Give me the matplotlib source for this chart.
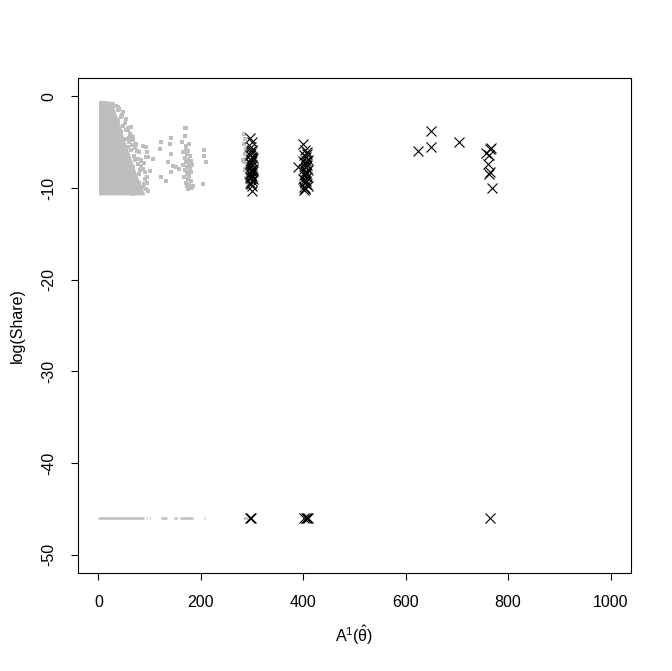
import numpy as np
import matplotlib
matplotlib.use("Agg")
import matplotlib.pyplot as plt

plt.rcParams['font.family'] = ['Liberation Sans', 'DejaVu Sans']
plt.rcParams['mathtext.fontset'] = 'custom'
plt.rcParams['mathtext.rm'] = 'Liberation Sans'
plt.rcParams['mathtext.it'] = 'Liberation Sans'

# ---- data ----
ZERO_LOG = np.log(1e-20)  # zero shares

# dense grey core: envelope of the point cloud
core_x = [0, 10, 20, 25, 30, 35, 40, 45, 50, 55, 60, 65, 70, 75, 80, 85, 90]
core_top = [-0.45, -0.45, -0.5, -0.6, -1.2, -2.0, -2.8, -3.6, -4.6, -5.4, -6.2,
            -7.0, -7.8, -8.6, -9.3, -10.0, -10.6]
core_bot = [-10.75] * 17

# scattered grey points
grey_x = [28, 34.5, 41, 31, 44, 38, 47.5, 54, 44, 60.5, 51, 67, 57, 80, 70, 64, 93, 77,
          67, 86.5, 80, 70, 90, 80, 86.5, 77, 96, 67, 106, 38, 47.5, 54, 64, 73.6, 83,
          73.6, 21.5, 37.7, 57, 64, 86.5, 83, 90, 100, 93,
          45, 52, 58, 62, 68, 72, 75, 78, 84, 88, 91, 94, 60, 66, 71, 81, 89, 95,
          93, 94, 96, 122, 120, 142, 139, 142, 135, 145, 152, 142, 158, 122, 132,
          168, 171, 168, 163, 207, 207, 210, 204, 184, 181,
          170, 175, 172, 178, 168, 174, 180, 171, 176, 166, 173, 179, 169, 175, 181,
          172, 177, 167, 174, 180, 170, 176, 172, 178, 174, 183, 165, 182, 171, 176,
          285, 287, 284, 288, 286, 289, 285, 290, 287, 291, 288, 290, 292, 286, 289, 283]
grey_y = [-0.8, -1.0, -1.35, -1.9, -2.3, -2.6, -3.2, -3.7, -3.9, -4.5, -4.7, -4.8, -5.5,
          -6.1, -6.5, -5.9, -6.6, -7.4, -7.7, -7.9, -8.5, -8.7, -9.0, -9.4, -9.9, -10.3,
          -10.3, -10.7, -6.8, -1.5, -1.7, -2.5, -3.35, -5.2, -7.0, -9.6, -0.8, -1.2,
          -3.7, -4.3, -5.4, -7.6, -8.3, -8.1, -10.1,
          -2.0, -2.9, -3.5, -4.1, -4.4, -5.6, -6.0, -6.8, -6.9, -7.3, -8.2, -9.4,
          -5.0, -5.3, -6.9, -8.0, -9.6, -8.8,
          -5.5, -6.1, -6.6, -5.0, -5.7, -4.5, -5.2, -6.3, -7.2, -7.6, -7.7, -8.3,
          -7.9, -8.8, -9.2,
          -3.4, -3.5, -4.3, -5.0, -5.9, -6.5, -7.2, -9.6, -9.8, -10.0,
          -5.8, -6.0, -6.3, -6.5, -6.7, -6.9, -7.0, -7.2, -7.4, -7.5, -7.7, -7.8, -8.0,
          -8.2, -8.3, -8.5, -8.7, -8.8, -9.0, -9.2, -9.4, -9.6, -9.8, -10.0, -10.1,
          -9.9, -6.1, -7.5, -5.4, -5.2,
          -4.1, -4.6, -5.2, -5.7, -6.3, -6.8, -7.2, -7.6, -8.0, -8.4, -8.9, -9.3, -9.8,
          -7.9, -6.0, -6.9]

# grey zero-share points (runs along x at log(1e-20))
grey_zero_start = [0, 92, 99, 122, 147, 160, 206, 283]
grey_zero_end = [89, 94, 101, 133, 154, 185, 208, 293]

# black crosses
black_x = [296, 299, 297, 300, 298, 295, 301, 297, 299, 296, 300, 298, 302, 297, 299,
           295, 298, 300, 297, 301, 299, 296, 298, 300, 297, 299, 298, 301, 296, 299,
           400, 404, 408, 402, 406, 410, 399, 403, 407, 405, 401, 409, 404, 406, 402,
           408, 400, 405, 403, 407, 410, 404, 402, 406, 389, 405, 403, 408, 401, 406, 404,
           649, 649, 624, 704, 764, 767, 757, 762, 761, 765, 762, 768]
black_y = [-4.5, -5.0, -5.5, -5.9, -6.2, -6.4, -6.7, -6.9, -7.1, -7.3, -7.5, -7.7, -7.9,
           -8.0, -8.2, -8.4, -8.5, -8.7, -8.9, -9.0, -9.2, -9.4, -9.6, -9.8, -6.0, -6.6,
           -7.4, -8.1, -8.8, -10.3,
           -5.2, -5.8, -6.1, -6.4, -6.6, -6.9, -7.1, -7.3, -7.5, -7.7, -7.9, -8.0, -8.2,
           -8.4, -8.6, -8.8, -9.0, -9.2, -9.4, -9.6, -9.8, -10.0, -10.2, -7.0, -7.7, -8.5,
           -9.1, -6.3, -9.9, -7.4, -10.1,
           -3.75, -5.5, -6.0, -5.0, -5.7, -5.6, -6.2, -6.4, -7.4, -8.3, -8.5, -10.0]
black_zero_x = [296, 298, 401, 405, 408, 410, 764]

x_ticks = [0, 200, 400, 600, 800, 1000]
y_ticks = [0, -10, -20, -30, -40, -50]

GREY = '#BEBEBE'
FS = 11.5

fig = plt.figure(figsize=(6.72, 6.71), dpi=100)
ax = fig.add_axes([78 / 672, 1 - 573 / 671, (631 - 78) / 672, (573 - 78) / 671])

ax.fill_between(core_x, core_bot, core_top, color=GREY, lw=0)
ax.plot(grey_x, grey_y, 's', color=GREY, ms=2.4, mew=0)
ax.hlines([ZERO_LOG] * len(grey_zero_start), grey_zero_start, grey_zero_end,
          color=GREY, lw=1.8)
ax.plot(black_x, black_y, 'x', color='black', ms=6.5, mew=0.8)
ax.plot(black_zero_x, [ZERO_LOG] * len(black_zero_x), 'x', color='black', ms=6.5, mew=0.8)

ax.set_xlim(-40, 1040)
ax.set_ylim(-52, 2)
ax.set_xticks(x_ticks)
ax.set_xticklabels([str(v) for v in x_ticks])
ax.set_yticks(y_ticks)
ax.set_yticklabels([str(v) for v in y_ticks], rotation=90, va='center')

for s in ax.spines.values():
    s.set_linewidth(0.8)
ax.tick_params(direction='out', length=5, width=0.8, labelsize=FS, pad=10.5)

fig.text(354.5 / 672, 1 - 635 / 671, r'$\mathrm{A}^{1}(\hat{\mathrm{\theta}})$',
         fontsize=FS, ha='center', va='center')
fig.text(17 / 672, 1 - 325.5 / 671, 'log(Share)', fontsize=FS, rotation=90,
         ha='center', va='center')

fig.savefig('out.png', dpi=100)
